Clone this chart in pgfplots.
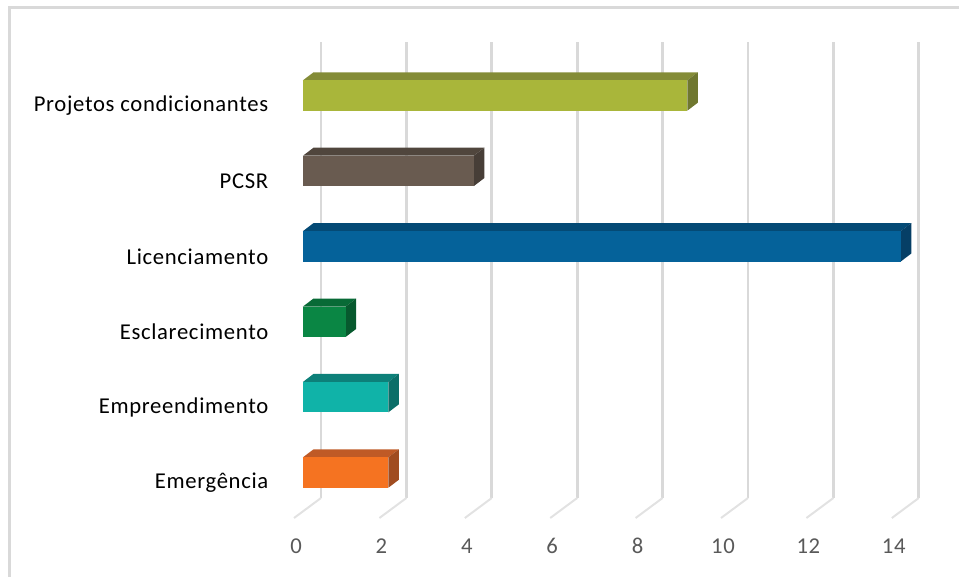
\documentclass[border=0pt]{standalone}
\usepackage{pgfplots}
\pgfplotsset{compat=1.18}
\usepackage{fontspec}
\setmainfont[LetterSpace=3]{Carlito}
\definecolor{gridc}{HTML}{D9D9D9}
\definecolor{floorc}{HTML}{E2E2E2}
\definecolor{labc}{HTML}{595959}
\definecolor{orF}{HTML}{F57321}\definecolor{orT}{HTML}{BF5A26}\definecolor{orS}{HTML}{A04C20}
\definecolor{teF}{HTML}{10B3A8}\definecolor{teT}{HTML}{0D8079}\definecolor{teS}{HTML}{0B6E68}
\definecolor{grF}{HTML}{0A8644}\definecolor{grT}{HTML}{086A36}\definecolor{grS}{HTML}{07592E}
\definecolor{blF}{HTML}{05629A}\definecolor{blT}{HTML}{044A75}\definecolor{blS}{HTML}{063F66}
\definecolor{brF}{HTML}{695B50}\definecolor{brT}{HTML}{50463D}\definecolor{brS}{HTML}{473E37}
\definecolor{olF}{HTML}{A9B63A}\definecolor{olT}{HTML}{848C37}\definecolor{olS}{HTML}{6F772F}
\newcommand{\bardepth}[5]{% value, y, front, top, side
  \addplot[fill=#4,draw=none,forget plot] coordinates {(0,{#2+.2016}) ({.246},{#2+.3076}) ({#1+.246},{#2+.3076}) (#1,{#2+.2016})} --cycle;
  \addplot[fill=#5,draw=none,forget plot] coordinates {(#1,{#2+.2016}) ({#1+.246},{#2+.3076}) ({#1+.246},{#2-.0956}) (#1,{#2-.2016})} --cycle;
  \addplot[xbar,bar width=22.8pt,bar shift=0pt,fill=#3,draw=none,forget plot] coordinates {(#1,#2)};
}
\newcommand{\gridv}[1]{%
  \addplot[gridc,line width=2.2pt,forget plot] coordinates {({#1+.4215},-.338) ({#1+.4215},5.7095)};
  \addplot[floorc,line width=1.5pt,forget plot] coordinates {({#1-.21},-.6034) ({#1+.4215},-.338)};
}
\begin{document}
\begin{tikzpicture}
\begin{axis}[
  scale only axis,
  width=464.36pt, height=357pt,
  xmin=0, xmax=14.5, ymin=-.6034, ymax=5.7095,
  clip=false,
  axis line style={draw=none},
  tick style={draw=none},
  xtick={0,2,4,6,8,10,12,14},
  ytick={0,1,2,3,4,5},
  yticklabels={Emergência,Empreendimento,Esclarecimento,Licenciamento,PCSR,Projetos condicionantes},
  tick label style={font=\fontsize{17}{20}\selectfont},
  /pgf/number format/assume math mode=true,
  xticklabel pos=lower,
  xticklabel style={text=labc,anchor=center,xshift=-5.25pt,yshift=-21pt},
  yticklabel style={text=black,anchor=east,xshift=-22.5pt,yshift=-7.5pt},
]
\path (axis cs:-7.096,-1.386) rectangle (axis cs:15.363,6.2666);
\fill[gridc] (axis cs:-6.909,6.1869) rectangle (axis cs:15.363,6.1472);
\fill[gridc] (axis cs:-6.909,-1.386) rectangle (axis cs:-6.839,6.1869);
\gridv{0}\gridv{2}\gridv{4}\gridv{6}\gridv{8}\gridv{10}\gridv{12}\gridv{14}
\bardepth{2}{0}{orF}{orT}{orS}
\bardepth{2}{1}{teF}{teT}{teS}
\bardepth{1}{2}{grF}{grT}{grS}
\bardepth{14}{3}{blF}{blT}{blS}
\bardepth{4}{4}{brF}{brT}{brS}
\bardepth{9}{5}{olF}{olT}{olS}
\end{axis}
\end{tikzpicture}
\end{document}
